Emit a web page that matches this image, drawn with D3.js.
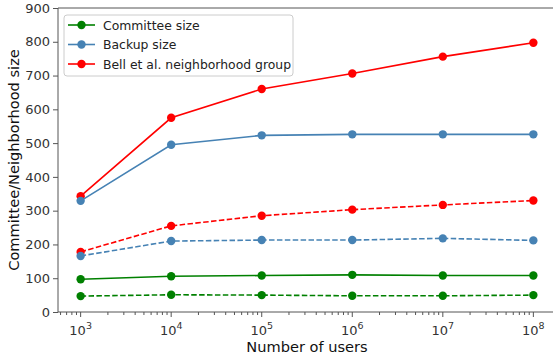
<!DOCTYPE html>
<html>
<head>
<meta charset="utf-8">
<script src="https://cdn.jsdelivr.net/npm/d3@7"></script>
<style>
  body { margin: 0; background: #fff; }
  svg { font-family: "DejaVu Sans", sans-serif; }
</style>
</head>
<body>
<svg width="553" height="358"></svg>
<script>
// number of users (x) and the six series
var users = [1e3, 1e4, 1e5, 1e6, 1e7, 1e8];
var committeeSolid = [97, 106, 108, 110, 108, 108];
var committeeDashed = [47, 51, 50, 48, 48, 50];
var backupSolid = [329, 495, 523, 526, 526, 526];
var backupDashed = [166, 210, 213, 213, 218, 212];
var bellSolid = [343, 575, 660, 706, 756, 797];
var bellDashed = [178, 255, 285, 303, 317, 330];
var yTicks = [0, 100, 200, 300, 400, 500, 600, 700, 800, 900];
var legendNames = ["Committee size", "Backup size", "Bell et al. neighborhood group"];
var colors = ["green", "steelblue", "red"];

var series = [
  {values: bellSolid, color: "red", dash: null},
  {values: bellDashed, color: "red", dash: "5.5,2.4"},
  {values: backupSolid, color: "steelblue", dash: null},
  {values: backupDashed, color: "steelblue", dash: "5.5,2.4"},
  {values: committeeSolid, color: "green", dash: null},
  {values: committeeDashed, color: "green", dash: "5.5,2.4"}
];

var svg = d3.select("svg");
var margin = {top: 8, left: 58, bottom: 46};
var plotW = 498; // right edge falls just outside the picture
var plotH = 358 - margin.top - margin.bottom;

var x = d3.scaleLog().domain([Math.pow(10, 2.75), Math.pow(10, 8.25)]).range([margin.left, margin.left + plotW]);
var y = d3.scaleLinear().domain([0, 900]).range([margin.top + plotH, margin.top]);

var g = svg.append("g");

// spines
var spine = "#555";
g.append("line").attr("x1", margin.left).attr("x2", margin.left)
  .attr("y1", margin.top).attr("y2", margin.top + plotH).attr("stroke", spine).attr("stroke-width", 1);
g.append("line").attr("x1", margin.left).attr("x2", margin.left + plotW)
  .attr("y1", margin.top + plotH).attr("y2", margin.top + plotH).attr("stroke", spine).attr("stroke-width", 1);
g.append("line").attr("x1", margin.left).attr("x2", margin.left + plotW)
  .attr("y1", margin.top).attr("y2", margin.top).attr("stroke", spine).attr("stroke-width", 1);

// y axis
var yAxis = d3.axisLeft(y).tickValues(yTicks).tickSize(5).tickPadding(3);
var ya = g.append("g").attr("transform", "translate(" + margin.left + ",0)").call(yAxis);
ya.select(".domain").remove();
ya.selectAll("line").attr("stroke", spine);
ya.selectAll("text").attr("font-size", 13).attr("fill", "#333").attr("font-family", "DejaVu Sans");

// x axis: minor ticks then majors with 10^n labels
var minor = [];
for (var e = 2; e <= 8; e++) {
  for (var m = 2; m <= 9; m++) {
    var v = m * Math.pow(10, e);
    if (v > x.domain()[0] && v < x.domain()[1]) minor.push(v);
  }
}
var xb = margin.top + plotH;
g.selectAll(".minor").data(minor).enter().append("line")
  .attr("x1", d => x(d)).attr("x2", d => x(d))
  .attr("y1", xb).attr("y2", xb + 3).attr("stroke", spine);
g.selectAll(".major").data(users).enter().append("line")
  .attr("x1", d => x(d)).attr("x2", d => x(d))
  .attr("y1", xb).attr("y2", xb + 5).attr("stroke", spine);
var xl = g.selectAll(".xlab").data(users).enter().append("text")
  .attr("x", d => x(d)).attr("y", xb + 23)
  .attr("text-anchor", "middle").attr("font-size", 13).attr("fill", "#333");
xl.append("tspan").text("10");
xl.append("tspan").attr("dy", -6).attr("font-size", 9.5).text(d => Math.round(Math.log10(d)));

// axis labels
svg.append("text").attr("x", 307).attr("y", 352)
  .attr("text-anchor", "middle").attr("font-size", 14.6).attr("fill", "#111")
  .text("Number of users");
svg.append("text").attr("transform", "translate(19," + (margin.top + plotH / 2) + ") rotate(-90)")
  .attr("text-anchor", "middle").attr("font-size", 14.6).attr("fill", "#111")
  .text("Committee/Neighborhood size");

// lines and markers
var line = d3.line().x((d, i) => x(users[i])).y(d => y(d));
series.forEach(function(s) {
  g.append("path").datum(s.values)
    .attr("d", line).attr("fill", "none")
    .attr("stroke", s.color).attr("stroke-width", 1.6)
    .attr("stroke-dasharray", s.dash);
  g.selectAll(null).data(s.values).enter().append("circle")
    .attr("cx", (d, i) => x(users[i])).attr("cy", d => y(d))
    .attr("r", 4.2).attr("fill", s.color);
});

// legend
var lg = svg.append("g").attr("transform", "translate(64,15)");
lg.append("rect").attr("width", 229).attr("height", 61).attr("rx", 3)
  .attr("fill", "white").attr("fill-opacity", 0.8).attr("stroke", "#ccc");
var items = lg.selectAll(".item").data(legendNames).enter().append("g")
  .attr("transform", (d, i) => "translate(0," + (10 + i * 19.5) + ")");
items.append("line").attr("x1", 4).attr("x2", 31)
  .attr("stroke", (d, i) => colors[i]).attr("stroke-width", 1.6);
items.append("circle").attr("cx", 17.5).attr("r", 4.2).attr("fill", (d, i) => colors[i]);
items.append("text").attr("x", 39).attr("y", 4.5).attr("font-size", 12.4).attr("fill", "#222")
  .text(d => d);
</script>
</body>
</html>
